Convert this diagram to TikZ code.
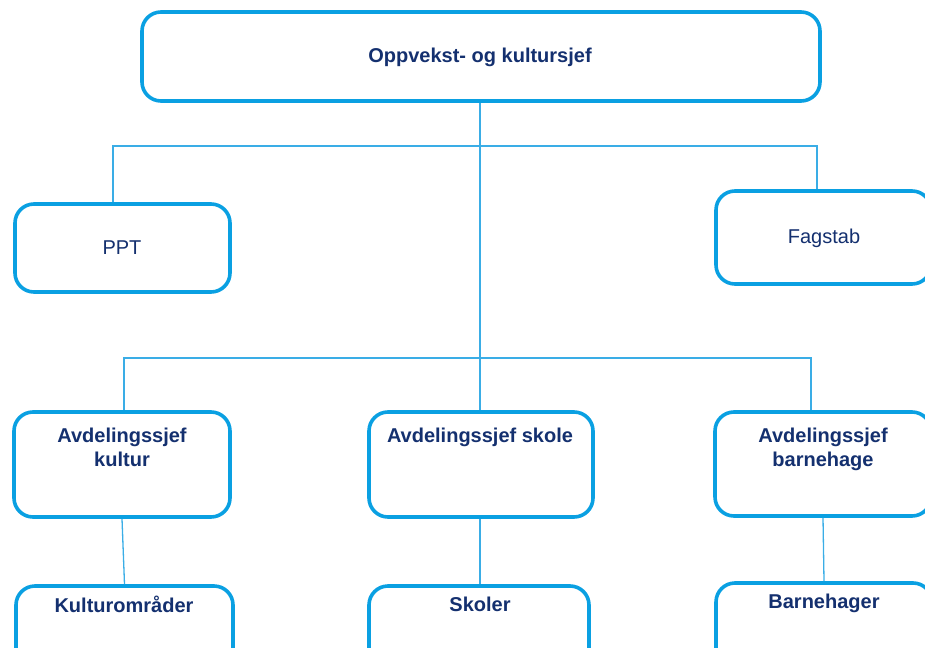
\documentclass[tikz,border=0pt]{standalone}
\usepackage{fontspec}
\setmainfont{Liberation Sans}
\definecolor{boxblue}{HTML}{0AA0E2}
\definecolor{lineblue}{HTML}{3AADE6}
\definecolor{navy}{HTML}{14306F}
\begin{document}
\begin{tikzpicture}[x=1pt,y=-1pt,
  box/.style={draw=boxblue, line width=3.6pt, rounded corners=19pt, fill=white, inner sep=0pt},
  conn/.style={draw=lineblue, line width=1.3pt},
  lbl/.style={text=navy, font=\fontsize{20}{24}\selectfont\bfseries, align=center, inner sep=0pt},
  lbln/.style={text=navy, font=\fontsize{20}{24}\selectfont, align=center, inner sep=0pt}]
\useasboundingbox (0,0) rectangle (925,647);
% boxes
\node[box, minimum width=678pt, minimum height=89pt] (top) at (481,56.5) {};
\node[box, minimum width=215pt, minimum height=88pt] (ppt) at (122.5,248) {};
\node[box, minimum width=215pt, minimum height=93pt] (fag) at (823.5,237.5) {};
\node[box, minimum width=216pt, minimum height=105pt] (kul) at (122,464.5) {};
\node[box, minimum width=224pt, minimum height=105pt] (sko) at (481,464.5) {};
\node[box, minimum width=216pt, minimum height=104pt] (bar) at (823,464) {};
\node[box, minimum width=217pt, minimum height=100pt] (kulo) at (124.5,636) {};
\node[box, minimum width=220pt, minimum height=100pt] (skol) at (479,636) {};
\node[box, minimum width=216pt, minimum height=100pt] (barh) at (824,633) {};
% texts
\node[lbl, anchor=base] (topT) at (480,63) {Oppvekst- og kultursjef};
\node[lbln, anchor=base] (pptT) at (122,254) {PPT};
\node[lbln, anchor=base] (fagT) at (824,243) {Fagstab};
\node[lbl, anchor=north] (kulT) at (122,427.5) {Avdelingssjef\\kultur};
\node[lbl, anchor=base] (skoT) at (480,442) {Avdelingssjef skole};
\node[lbl, anchor=north] (barT) at (823,427.5) {Avdelingssjef\\barnehage};
\node[lbl, anchor=base] (kuloT) at (124,612) {Kulturområder};
\node[lbl, anchor=base] (skolT) at (480,611) {Skoler};
\node[lbl, anchor=base] (barhT) at (824,608) {Barnehager};
% connectors
\coordinate (j1) at (480,146);
\coordinate (j2) at (480,358);
\begin{scope}[on background layer/.style={}]
\draw[conn] (top.south -| j1) -- (sko.north -| j1);
\draw[conn] (j1) -| ([xshift=-9.5pt]ppt.north);
\draw[conn] (j1) -| ([xshift=-6.5pt]fag.north);
\draw[conn] (j2) -| ([xshift=2pt]kul.north);
\draw[conn] (j2) -| ([xshift=-12pt]bar.north);
\draw[conn] (kul.south) -- (kulo.north);
\draw[conn] (sko.south -| 480,0) -- (skol.north -| 480,0);
\draw[conn] (bar.south) -- (barh.north);
\end{scope}
\end{tikzpicture}
\end{document}
